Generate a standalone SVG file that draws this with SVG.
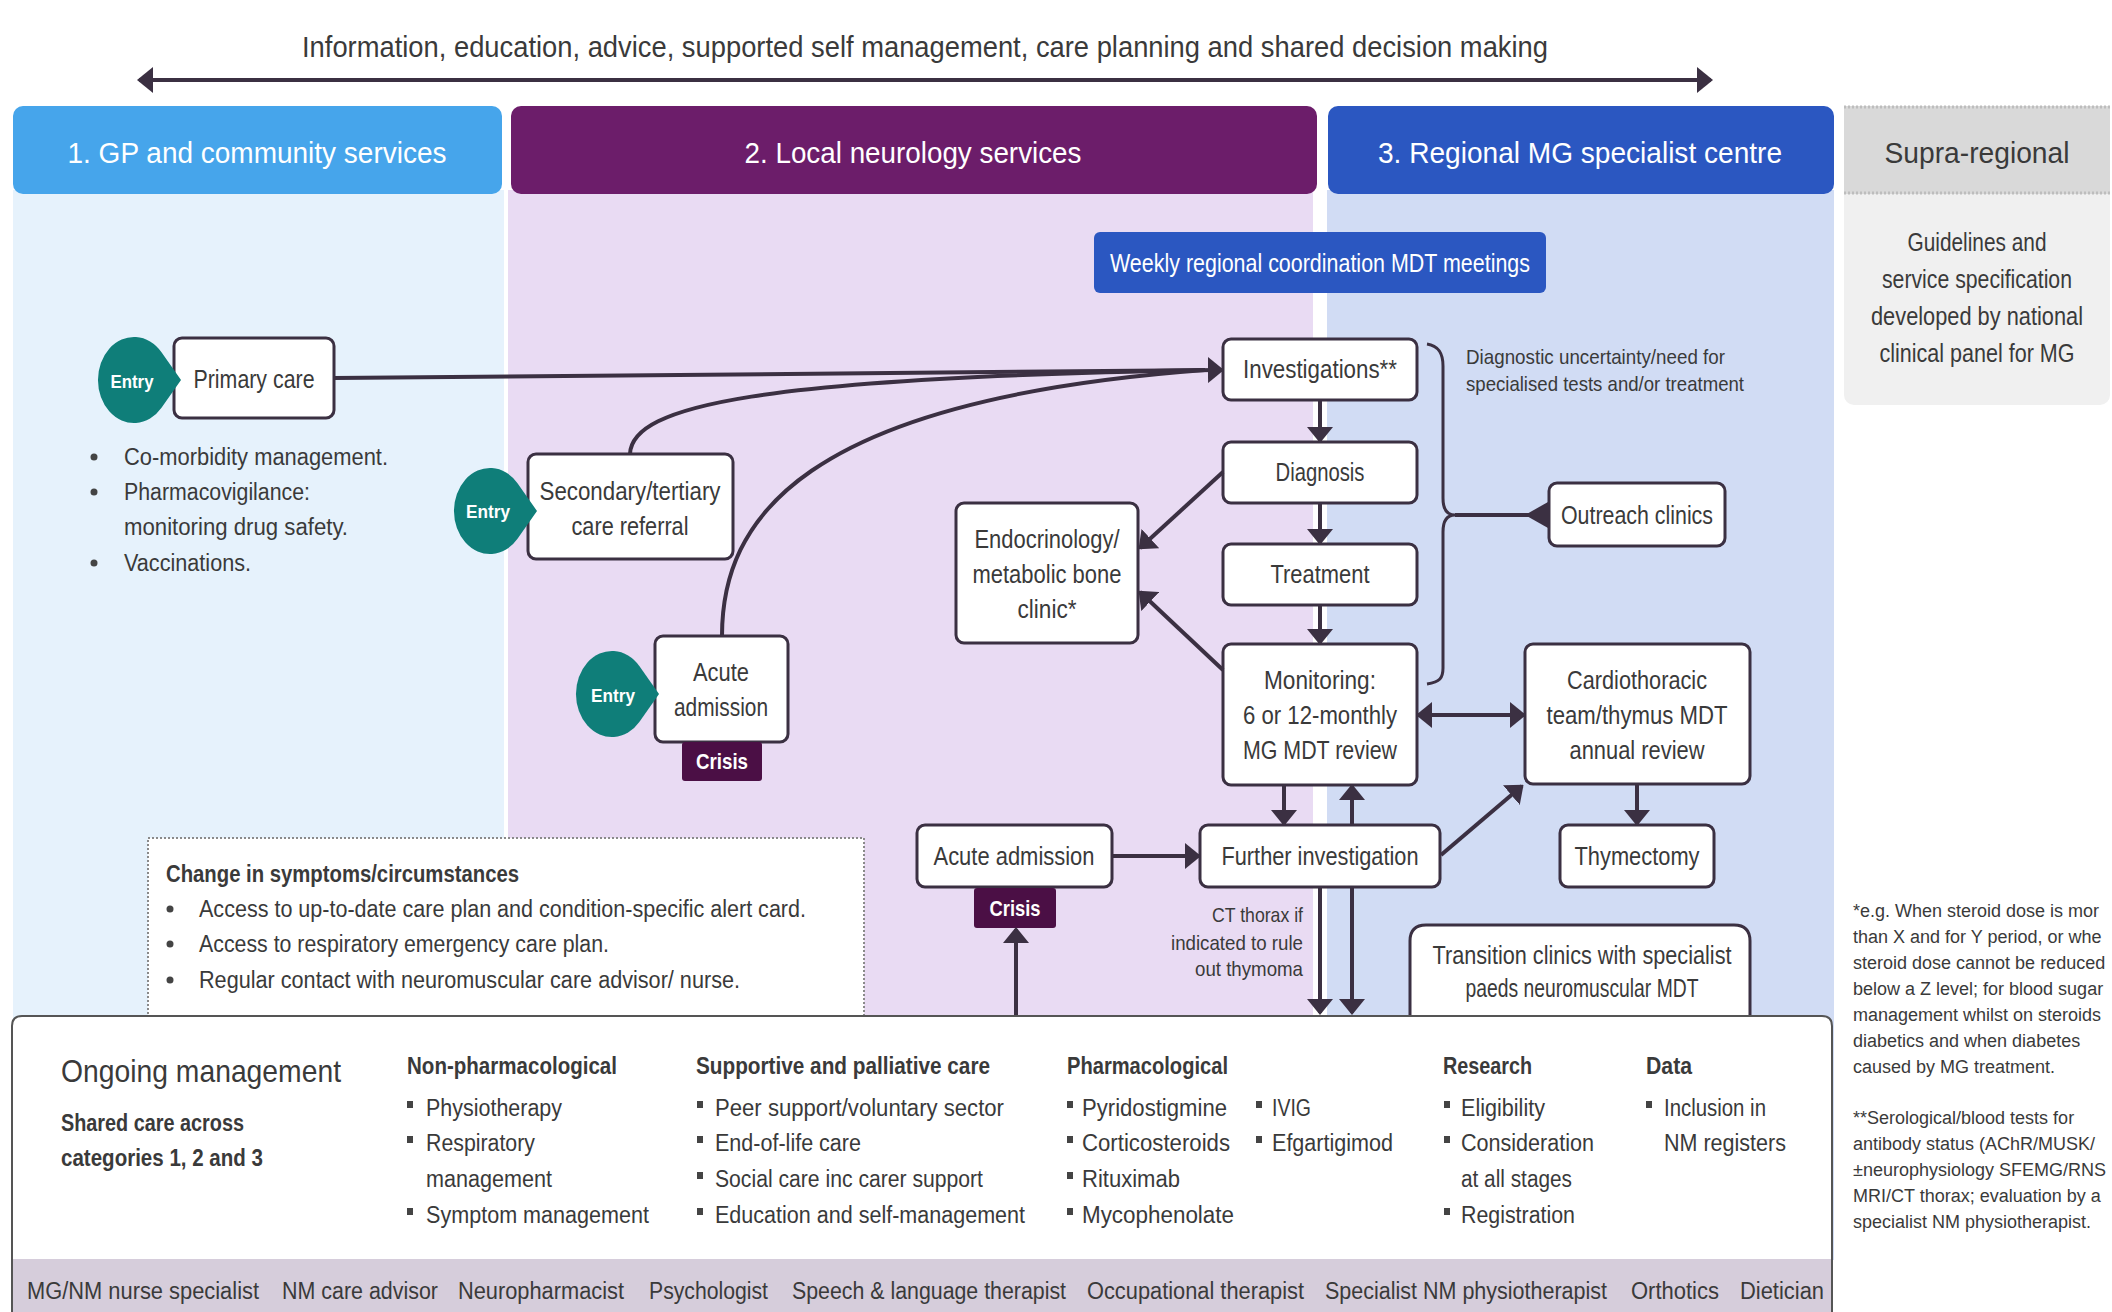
<svg xmlns="http://www.w3.org/2000/svg" width="2112" height="1312" viewBox="0 0 2112 1312">
<defs>
<style>
text{font-family:'Liberation Sans',Arial,sans-serif;fill:#3a3a3a}
.c{text-anchor:middle}
.r{text-anchor:end}
.hd{font-size:29px;fill:#fff}
.lb{font-size:25px}
.sm{font-size:21px}
.fn{font-size:18px;fill:#3a3a3a}
.bl{font-size:23px}
.bd{font-weight:bold}
.en{font-size:19px;font-weight:bold;fill:#fff}
.cr{font-size:22px;font-weight:bold;fill:#fff}
.node{fill:#fff;stroke:#3B3042;stroke-width:3}
.ln{fill:none;stroke:#3B3042;stroke-width:4}
.teal{fill:#0F7E79}
.crisis{fill:#4B0F45}
.dot{fill:#444}
</style>
<marker id="ah" markerUnits="userSpaceOnUse" viewBox="0 0 16 26" refX="14" refY="13" markerWidth="16" markerHeight="26" orient="auto-start-reverse"><path d="M0,0 L16,13 L0,26 Z" fill="#3B3042"/></marker>
</defs>
<rect width="2112" height="1312" fill="#fff"/>

<g id="columns">
<rect x="13" y="190" width="491" height="1070" fill="#E6F2FC"/>
<rect x="508" y="190" width="805" height="1070" fill="#E9DBF3"/>
<rect x="1327" y="190" width="507" height="1070" fill="#D1DCF4"/>
<rect x="1844" y="180" width="266" height="225" rx="10" fill="#F0F0F0"/>
</g>

<g id="headers">
<rect x="13" y="106" width="489" height="88" rx="10" fill="#46A5EB"/>
<text class="hd c" x="257" y="163" textLength="379" lengthAdjust="spacingAndGlyphs">1. GP and community services</text>
<rect x="511" y="106" width="806" height="88" rx="10" fill="#6C1D6A"/>
<text class="hd c" x="913" y="163" textLength="337" lengthAdjust="spacingAndGlyphs">2. Local neurology services</text>
<rect x="1328" y="106" width="506" height="88" rx="10" fill="#2B57C1"/>
<text class="hd c" x="1580" y="163" textLength="404" lengthAdjust="spacingAndGlyphs">3. Regional MG specialist centre</text>
<rect x="1844" y="106" width="266" height="88" fill="#D9D9D9"/>
<line x1="1844" y1="107" x2="2110" y2="107" stroke="#BDBDBD" stroke-width="3" stroke-dasharray="2 2"/>
<line x1="1844" y1="193" x2="2110" y2="193" stroke="#BDBDBD" stroke-width="3" stroke-dasharray="2 2"/>
<text class="c" x="1977" y="163" font-size="29" textLength="185" lengthAdjust="spacingAndGlyphs">Supra-regional</text>
</g>

<g id="top-banner">
<text class="c" x="925" y="57" font-size="30" textLength="1246" lengthAdjust="spacingAndGlyphs">Information, education, advice, supported self management, care planning and shared decision making</text>
</g>

<g id="supra-text">
<text class="c" x="1977" y="251" font-size="25" textLength="139" lengthAdjust="spacingAndGlyphs">Guidelines and</text>
<text class="c" x="1977" y="288" font-size="25" textLength="190" lengthAdjust="spacingAndGlyphs">service specification</text>
<text class="c" x="1977" y="325" font-size="25" textLength="212" lengthAdjust="spacingAndGlyphs">developed by national</text>
<text class="c" x="1977" y="362" font-size="25" textLength="195" lengthAdjust="spacingAndGlyphs">clinical panel for MG</text>
</g>

<g id="weekly-mdt">
<rect x="1094" y="232" width="452" height="61" rx="6" fill="#2B57C1"/>
<text class="c" x="1320" y="272" font-size="25" style="fill:#fff" textLength="420" lengthAdjust="spacingAndGlyphs">Weekly regional coordination MDT meetings</text>
</g>

<g id="primary-care">
<rect class="node" x="174" y="338" width="160" height="80" rx="8"/>
<text class="lb c" x="254" y="388" textLength="121" lengthAdjust="spacingAndGlyphs">Primary care</text>
</g>
<g id="entry-primary">
<path class="teal" d="M181,380 L161.5,352.3 A36 43 0 1 0 161.5,407.7 Z"/>
<text class="en c" x="132" y="388" textLength="43" lengthAdjust="spacingAndGlyphs">Entry</text>
</g>
<g id="primary-notes">
<circle class="dot" cx="94" cy="457" r="3.5"/>
<text class="bl" x="124" y="465" textLength="264" lengthAdjust="spacingAndGlyphs">Co-morbidity management.</text>
<circle class="dot" cx="94" cy="492" r="3.5"/>
<text class="bl" x="124" y="500" textLength="186" lengthAdjust="spacingAndGlyphs">Pharmacovigilance:</text>
<text class="bl" x="124" y="535" textLength="224" lengthAdjust="spacingAndGlyphs">monitoring drug safety.</text>
<circle class="dot" cx="94" cy="563" r="3.5"/>
<text class="bl" x="124" y="571" textLength="127" lengthAdjust="spacingAndGlyphs">Vaccinations.</text>
</g>

<g id="secondary-referral">
<rect class="node" x="528" y="454" width="205" height="105" rx="8"/>
<text class="lb c" x="630" y="500" textLength="181" lengthAdjust="spacingAndGlyphs">Secondary/tertiary</text>
<text class="lb c" x="630" y="535" textLength="117" lengthAdjust="spacingAndGlyphs">care referral</text>
</g>
<g id="entry-secondary">
<path class="teal" d="M537,511 L517.5,483.3 A36 43 0 1 0 517.5,538.7 Z"/>
<text class="en c" x="488" y="518" textLength="44" lengthAdjust="spacingAndGlyphs">Entry</text>
</g>

<g id="acute-admission-entry">
<rect class="node" x="655" y="636" width="133" height="106" rx="8"/>
<text class="lb c" x="721" y="681" textLength="56" lengthAdjust="spacingAndGlyphs">Acute</text>
<text class="lb c" x="721" y="716" textLength="94" lengthAdjust="spacingAndGlyphs">admission</text>
</g>
<g id="entry-acute">
<path class="teal" d="M659,694 L639.5,666.3 A36 43 0 1 0 639.5,721.7 Z"/>
<text class="en c" x="613" y="702" textLength="44" lengthAdjust="spacingAndGlyphs">Entry</text>
</g>
<g id="crisis-1">
<rect class="crisis" x="682" y="742" width="80" height="39" rx="3"/>
<text class="cr c" x="722" y="769" textLength="52" lengthAdjust="spacingAndGlyphs">Crisis</text>
</g>

<g id="investigations">
<rect class="node" x="1223" y="339" width="194" height="61" rx="8"/>
<text class="lb c" x="1320" y="378" textLength="154" lengthAdjust="spacingAndGlyphs">Investigations**</text>
</g>
<g id="diagnosis">
<rect class="node" x="1223" y="442" width="194" height="61" rx="8"/>
<text class="lb c" x="1320" y="481" textLength="89" lengthAdjust="spacingAndGlyphs">Diagnosis</text>
</g>
<g id="treatment">
<rect class="node" x="1223" y="544" width="194" height="61" rx="8"/>
<text class="lb c" x="1320" y="583" textLength="99" lengthAdjust="spacingAndGlyphs">Treatment</text>
</g>
<g id="monitoring">
<rect class="node" x="1223" y="644" width="194" height="141" rx="8"/>
<text class="lb c" x="1320" y="689" textLength="112" lengthAdjust="spacingAndGlyphs">Monitoring:</text>
<text class="lb c" x="1320" y="724" textLength="154" lengthAdjust="spacingAndGlyphs">6 or 12-monthly</text>
<text class="lb c" x="1320" y="759" textLength="154" lengthAdjust="spacingAndGlyphs">MG MDT review</text>
</g>
<g id="endocrinology">
<rect class="node" x="956" y="503" width="182" height="140" rx="8"/>
<text class="lb c" x="1047" y="548" textLength="145" lengthAdjust="spacingAndGlyphs">Endocrinology/</text>
<text class="lb c" x="1047" y="583" textLength="149" lengthAdjust="spacingAndGlyphs">metabolic bone</text>
<text class="lb c" x="1047" y="618" textLength="59" lengthAdjust="spacingAndGlyphs">clinic*</text>
</g>
<g id="outreach">
<rect class="node" x="1549" y="483" width="176" height="63" rx="8"/>
<text class="lb c" x="1637" y="524" textLength="152" lengthAdjust="spacingAndGlyphs">Outreach clinics</text>
</g>
<g id="diagnostic-note">
<text class="sm" x="1466" y="364" textLength="259" lengthAdjust="spacingAndGlyphs">Diagnostic uncertainty/need for</text>
<text class="sm" x="1466" y="391" textLength="278" lengthAdjust="spacingAndGlyphs">specialised tests and/or treatment</text>
</g>
<g id="cardiothoracic">
<rect class="node" x="1525" y="644" width="225" height="140" rx="8"/>
<text class="lb c" x="1637" y="689" textLength="140" lengthAdjust="spacingAndGlyphs">Cardiothoracic</text>
<text class="lb c" x="1637" y="724" textLength="181" lengthAdjust="spacingAndGlyphs">team/thymus MDT</text>
<text class="lb c" x="1637" y="759" textLength="135" lengthAdjust="spacingAndGlyphs">annual review</text>
</g>
<g id="thymectomy">
<rect class="node" x="1560" y="825" width="154" height="62" rx="8"/>
<text class="lb c" x="1637" y="865" textLength="125" lengthAdjust="spacingAndGlyphs">Thymectomy</text>
</g>
<g id="further-investigation">
<rect class="node" x="1200" y="825" width="240" height="62" rx="8"/>
<text class="lb c" x="1320" y="865" textLength="197" lengthAdjust="spacingAndGlyphs">Further investigation</text>
</g>
<g id="acute-admission-crisis">
<rect class="node" x="917" y="825" width="195" height="62" rx="8"/>
<text class="lb c" x="1014" y="865" textLength="161" lengthAdjust="spacingAndGlyphs">Acute admission</text>
</g>
<g id="crisis-2">
<rect class="crisis" x="974" y="888" width="82" height="40" rx="3"/>
<text class="cr c" x="1015" y="916" textLength="51" lengthAdjust="spacingAndGlyphs">Crisis</text>
</g>
<g id="ct-note">
<text class="sm r" x="1303" y="922" textLength="91" lengthAdjust="spacingAndGlyphs">CT thorax if</text>
<text class="sm r" x="1303" y="950" textLength="132" lengthAdjust="spacingAndGlyphs">indicated to rule</text>
<text class="sm r" x="1303" y="976" textLength="108" lengthAdjust="spacingAndGlyphs">out thymoma</text>
</g>
<g id="transition-clinics">
<path class="node" d="M1410,1018 V941 Q1410,925 1426,925 H1734 Q1750,925 1750,941 V1018"/>
<text class="lb c" x="1582" y="964" textLength="299" lengthAdjust="spacingAndGlyphs">Transition clinics with specialist</text>
<text class="lb c" x="1582" y="997" textLength="233" lengthAdjust="spacingAndGlyphs">paeds neuromuscular MDT</text>
</g>

<g id="change-box">
<rect x="148" y="838" width="716" height="178" fill="#fff" stroke="#8a8a8a" stroke-width="2" stroke-dasharray="2 2"/>
<text class="bl bd" x="166" y="882" textLength="353" lengthAdjust="spacingAndGlyphs">Change in symptoms/circumstances</text>
<circle class="dot" cx="170" cy="909" r="3.5"/>
<text class="bl" x="199" y="917" textLength="607" lengthAdjust="spacingAndGlyphs">Access to up-to-date care plan and condition-specific alert card.</text>
<circle class="dot" cx="170" cy="944" r="3.5"/>
<text class="bl" x="199" y="952" textLength="410" lengthAdjust="spacingAndGlyphs">Access to respiratory emergency care plan.</text>
<circle class="dot" cx="170" cy="980" r="3.5"/>
<text class="bl" x="199" y="988" textLength="541" lengthAdjust="spacingAndGlyphs">Regular contact with neuromuscular care advisor/ nurse.</text>
</g>

<g id="connectors">
<path class="ln" d="M139,80 L1711,80" marker-start="url(#ah)" marker-end="url(#ah)"/>
<path class="ln" d="M334,378 C700,376 1000,371 1222,370" marker-end="url(#ah)"/>
<path class="ln" d="M630,454 C632,405 760,378 1205,370"/>
<path class="ln" d="M722,636 C722,520 800,400 1205,370"/>
<path class="ln" d="M1320,400 L1320,441" marker-end="url(#ah)"/>
<path class="ln" d="M1320,503 L1320,543" marker-end="url(#ah)"/>
<path class="ln" d="M1320,605 L1320,643" marker-end="url(#ah)"/>
<path class="ln" d="M1223,472 L1140,548" marker-end="url(#ah)"/>
<path class="ln" d="M1223,670 L1140,592" marker-end="url(#ah)"/>
<path class="ln" d="M1418,715 L1524,715" marker-start="url(#ah)" marker-end="url(#ah)"/>
<path class="ln" d="M1637,784 L1637,824" marker-end="url(#ah)"/>
<path class="ln" d="M1284,785 L1284,824" marker-end="url(#ah)"/>
<path class="ln" d="M1352,825 L1352,786" marker-end="url(#ah)"/>
<path class="ln" d="M1112,856 L1199,856" marker-end="url(#ah)"/>
<path class="ln" d="M1441,855 L1522,786" marker-end="url(#ah)"/>
<path class="ln" d="M1320,887 L1320,1013" marker-end="url(#ah)"/>
<path class="ln" d="M1352,887 L1352,1013" marker-end="url(#ah)"/>
<path class="ln" d="M1016,1016 L1016,929" marker-end="url(#ah)"/>
<path class="ln" d="M1455,515 L1549,515"/>
<path d="M1525,515 L1548,502 L1548,528 Z" fill="#3B3042"/>
<path class="ln" style="stroke-width:3" d="M1427,344 C1440,346 1443,355 1443,366 L1443,498 C1443,510 1448,515 1455,515 C1448,515 1443,520 1443,532 L1443,668 C1443,678 1440,682 1427,684"/>
</g>

<g id="ongoing-management">
<path d="M12,1312 V1026 Q12,1016 22,1016 H1822 Q1832,1016 1832,1026 V1312" fill="#fff" stroke="#555" stroke-width="2"/>
<rect x="13" y="1259" width="1818" height="53" fill="#D6CDDB"/>
<text x="61" y="1082" font-size="32" textLength="280" lengthAdjust="spacingAndGlyphs">Ongoing management</text>
<text class="bl bd" x="61" y="1131" textLength="183" lengthAdjust="spacingAndGlyphs">Shared care across</text>
<text class="bl bd" x="61" y="1166" textLength="202" lengthAdjust="spacingAndGlyphs">categories 1, 2 and 3</text>

<text class="bl bd" x="407" y="1074" textLength="210" lengthAdjust="spacingAndGlyphs">Non-pharmacological</text>
<rect class="dot" x="407" y="1101" width="6" height="7"/>
<text class="bl" x="426" y="1116" textLength="136" lengthAdjust="spacingAndGlyphs">Physiotherapy</text>
<rect class="dot" x="407" y="1136" width="6" height="7"/>
<text class="bl" x="426" y="1151" textLength="109" lengthAdjust="spacingAndGlyphs">Respiratory</text>
<text class="bl" x="426" y="1187" textLength="126" lengthAdjust="spacingAndGlyphs">management</text>
<rect class="dot" x="407" y="1208" width="6" height="7"/>
<text class="bl" x="426" y="1223" textLength="223" lengthAdjust="spacingAndGlyphs">Symptom management</text>

<text class="bl bd" x="696" y="1074" textLength="294" lengthAdjust="spacingAndGlyphs">Supportive and palliative care</text>
<rect class="dot" x="697" y="1101" width="6" height="7"/>
<text class="bl" x="715" y="1116" textLength="289" lengthAdjust="spacingAndGlyphs">Peer support/voluntary sector</text>
<rect class="dot" x="697" y="1136" width="6" height="7"/>
<text class="bl" x="715" y="1151" textLength="146" lengthAdjust="spacingAndGlyphs">End-of-life care</text>
<rect class="dot" x="697" y="1172" width="6" height="7"/>
<text class="bl" x="715" y="1187" textLength="268" lengthAdjust="spacingAndGlyphs">Social care inc carer support</text>
<rect class="dot" x="697" y="1208" width="6" height="7"/>
<text class="bl" x="715" y="1223" textLength="310" lengthAdjust="spacingAndGlyphs">Education and self-management</text>

<text class="bl bd" x="1067" y="1074" textLength="161" lengthAdjust="spacingAndGlyphs">Pharmacological</text>
<rect class="dot" x="1067" y="1101" width="6" height="7"/>
<text class="bl" x="1082" y="1116" textLength="145" lengthAdjust="spacingAndGlyphs">Pyridostigmine</text>
<rect class="dot" x="1067" y="1136" width="6" height="7"/>
<text class="bl" x="1082" y="1151" textLength="148" lengthAdjust="spacingAndGlyphs">Corticosteroids</text>
<rect class="dot" x="1067" y="1172" width="6" height="7"/>
<text class="bl" x="1082" y="1187" textLength="98" lengthAdjust="spacingAndGlyphs">Rituximab</text>
<rect class="dot" x="1067" y="1208" width="6" height="7"/>
<text class="bl" x="1082" y="1223" textLength="152" lengthAdjust="spacingAndGlyphs">Mycophenolate</text>
<rect class="dot" x="1256" y="1101" width="6" height="7"/>
<text class="bl" x="1272" y="1116" textLength="39" lengthAdjust="spacingAndGlyphs">IVIG</text>
<rect class="dot" x="1256" y="1136" width="6" height="7"/>
<text class="bl" x="1272" y="1151" textLength="121" lengthAdjust="spacingAndGlyphs">Efgartigimod</text>

<text class="bl bd" x="1443" y="1074" textLength="89" lengthAdjust="spacingAndGlyphs">Research</text>
<rect class="dot" x="1444" y="1101" width="6" height="7"/>
<text class="bl" x="1461" y="1116" textLength="84" lengthAdjust="spacingAndGlyphs">Eligibility</text>
<rect class="dot" x="1444" y="1136" width="6" height="7"/>
<text class="bl" x="1461" y="1151" textLength="133" lengthAdjust="spacingAndGlyphs">Consideration</text>
<text class="bl" x="1461" y="1187" textLength="111" lengthAdjust="spacingAndGlyphs">at all stages</text>
<rect class="dot" x="1444" y="1208" width="6" height="7"/>
<text class="bl" x="1461" y="1223" textLength="114" lengthAdjust="spacingAndGlyphs">Registration</text>

<text class="bl bd" x="1646" y="1074" textLength="46" lengthAdjust="spacingAndGlyphs">Data</text>
<rect class="dot" x="1646" y="1101" width="6" height="7"/>
<text class="bl" x="1664" y="1116" textLength="102" lengthAdjust="spacingAndGlyphs">Inclusion in</text>
<text class="bl" x="1664" y="1151" textLength="122" lengthAdjust="spacingAndGlyphs">NM registers</text>

<text class="bl" x="27" y="1299" textLength="232" lengthAdjust="spacingAndGlyphs">MG/NM nurse specialist</text>
<text class="bl" x="282" y="1299" textLength="156" lengthAdjust="spacingAndGlyphs">NM care advisor</text>
<text class="bl" x="458" y="1299" textLength="166" lengthAdjust="spacingAndGlyphs">Neuropharmacist</text>
<text class="bl" x="649" y="1299" textLength="119" lengthAdjust="spacingAndGlyphs">Psychologist</text>
<text class="bl" x="792" y="1299" textLength="274" lengthAdjust="spacingAndGlyphs">Speech &amp; language therapist</text>
<text class="bl" x="1087" y="1299" textLength="217" lengthAdjust="spacingAndGlyphs">Occupational therapist</text>
<text class="bl" x="1325" y="1299" textLength="282" lengthAdjust="spacingAndGlyphs">Specialist NM physiotherapist</text>
<text class="bl" x="1631" y="1299" textLength="88" lengthAdjust="spacingAndGlyphs">Orthotics</text>
<text class="bl" x="1740" y="1299" textLength="84" lengthAdjust="spacingAndGlyphs">Dietician</text>
</g>

<g id="footnotes">
<text class="fn" x="1853" y="917">*e.g. When steroid dose is mor</text>
<text class="fn" x="1853" y="943">than X and for Y period, or whe</text>
<text class="fn" x="1853" y="969">steroid dose cannot be reduced</text>
<text class="fn" x="1853" y="995">below a Z level; for blood sugar</text>
<text class="fn" x="1853" y="1021">management whilst on steroids</text>
<text class="fn" x="1853" y="1047">diabetics and when diabetes</text>
<text class="fn" x="1853" y="1073">caused by MG treatment.</text>
<text class="fn" x="1853" y="1124">**Serological/blood tests for</text>
<text class="fn" x="1853" y="1150">antibody status (AChR/MUSK/</text>
<text class="fn" x="1853" y="1176">±neurophysiology SFEMG/RNS</text>
<text class="fn" x="1853" y="1202">MRI/CT thorax; evaluation by a</text>
<text class="fn" x="1853" y="1228">specialist NM physiotherapist.</text>
</g>
</svg>
